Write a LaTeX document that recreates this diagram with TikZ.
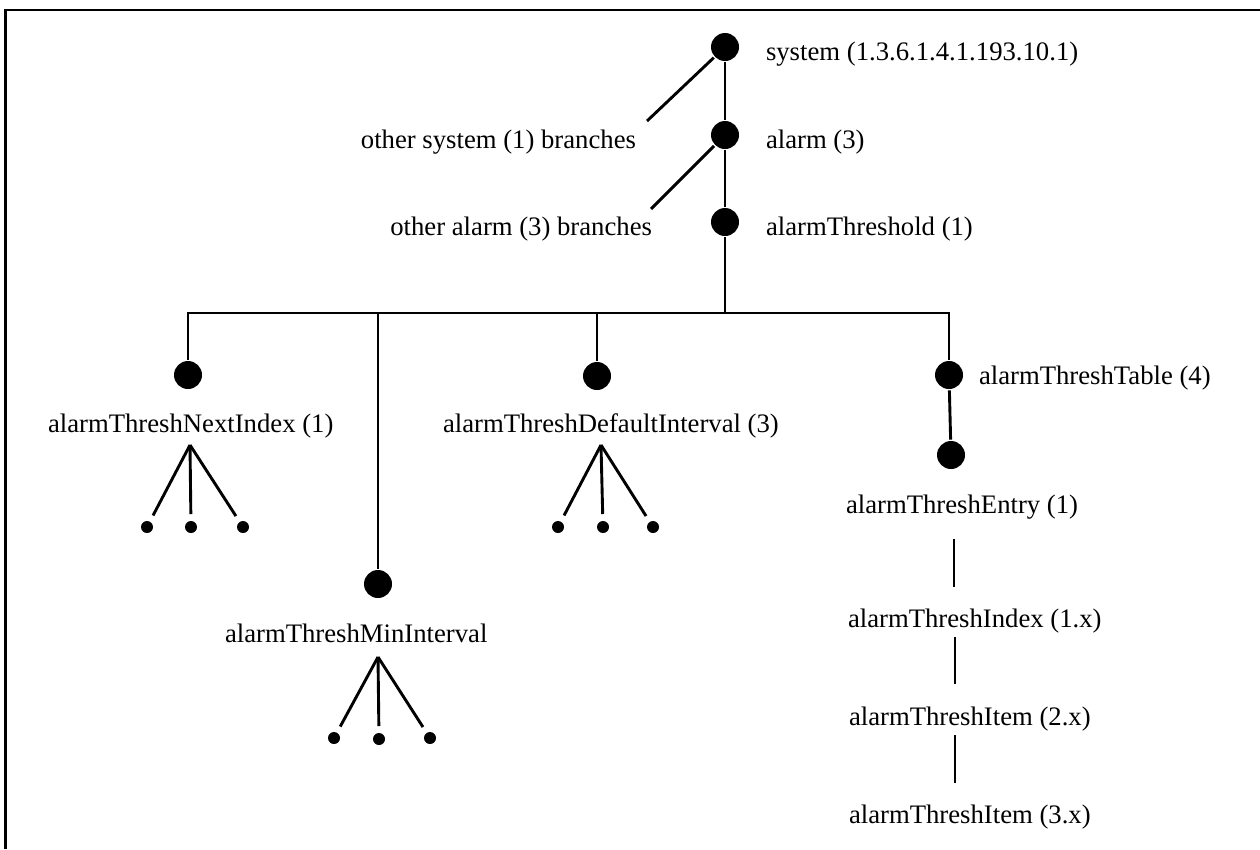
\documentclass[tikz,border=0pt]{standalone}
\usepackage{fontspec}
\setmainfont{Liberation Serif}
\usetikzlibrary{positioning}

\begin{document}
\begin{tikzpicture}[x=1pt,y=-1pt,line width=2.9pt,
       font=\fontsize{26.7}{32}\selectfont,
       dot/.style={circle,fill,inner sep=0pt,minimum size=28pt},
       leaf/.style={circle,fill,inner sep=0pt,minimum size=12pt,outer sep=7pt},
       txt/.style={inner sep=0pt,outer sep=0pt}]
       \useasboundingbox (0,0) rectangle (1260,849);
       \draw[line width=2.4pt] (5.5,849) -- (5.5,10) -- (1260,10);

       % top of the tree
       \node[dot] (sys) at (725,47) {};
       \node[dot] (alarm) at (725,135) {};
       \node[dot] (thr) at (725,222) {};
       \node[txt,anchor=base west] (sysl) at (766,60) {system (1.3.6.1.4.1.193.10.1)};
       \node[txt,anchor=base west] (alarml) at (766,148) {alarm (3)};
       \node[txt,anchor=base west] (thrl) at (766,235) {alarmThreshold (1)};
       \node[txt,anchor=base east] (osys) at (636,148) {other system (1) branches};
       \node[txt,anchor=base east] (oalarm) at (652,235) {other alarm (3) branches};
       \coordinate (osysend) at (647,121);
       \coordinate (oalarmend) at (651,209);
       \coordinate (bar) at (725,313);

       \path
       (sys) edge (alarm)
             edge (osysend)
       (alarm) edge (thr)
               edge (oalarmend)
       (thr) edge (bar);

       % children of alarmThreshold
       \node[dot] (nxt) at (188,375) {};
       \node[dot] (mini) at (378,584) {};
       \node[dot] (dflt) at (597,376) {};
       \node[dot] (tbl) at (949,375) {};
       \node[dot] (ent) at (951,455) {};
       \node[txt,anchor=base west] (nxtl) at (48,432) {alarmThreshNextIndex (1)};
       \node[txt,anchor=base west] (minil) at (225,642) {alarmThreshMinInterval};
       \node[txt,anchor=base west] (dfltl) at (443,432) {alarmThreshDefaultInterval (3)};
       \node[txt,anchor=base west] (tbll) at (979,384) {alarmThreshTable (4)};
       \node[txt,anchor=base west] (entl) at (846,513) {alarmThreshEntry (1)};
       \node[txt,anchor=base west] (idxl) at (848,627) {alarmThreshIndex (1.x)};
       \node[txt,anchor=base west] (item2l) at (849,725) {alarmThreshItem (2.x)};
       \node[txt,anchor=base west] (item3l) at (849,823) {alarmThreshItem (3.x)};

       \draw (nxt) -- (nxt |- bar) -- (tbl |- bar) -- (tbl);
       \path
       (mini) edge (mini |- bar)
       (dflt) edge (dflt |- bar)
       (tbl) edge (ent);

       % table columns
       \draw[shorten <=26pt,shorten >=40pt] ([xshift=3pt]entl.base -| ent) -- ([xshift=3pt]idxl.base -| ent);
       \draw[shorten <=10pt,shorten >=41pt] ([xshift=4pt]idxl.base -| ent) -- ([xshift=4pt]item2l.base -| ent);
       \draw[shorten <=10pt,shorten >=40pt] ([xshift=4pt]item2l.base -| ent) -- ([xshift=4pt]item3l.base -| ent);

       % leaves
       \coordinate (nxttop) at (190,445);
       \node[leaf] (nxta) at (147,527) {};
       \node[leaf] (nxtb) at (191,527) {};
       \node[leaf] (nxtc) at (243,527) {};
       \coordinate (dflttop) at (601,445);
       \node[leaf] (dflta) at (558,527) {};
       \node[leaf] (dfltb) at (603,527) {};
       \node[leaf] (dfltc) at (653,527) {};
       \coordinate (minitop) at (378,657);
       \node[leaf] (minia) at (334,738) {};
       \node[leaf] (minib) at (379,739) {};
       \node[leaf] (minic) at (430,738) {};

       \path
       (nxttop) edge (nxta)
                edge (nxtb)
                edge (nxtc)
       (dflttop) edge (dflta)
                 edge (dfltb)
                 edge (dfltc)
       (minitop) edge (minia)
                 edge (minib)
                 edge (minic);
    \end{tikzpicture}
\end{document}
